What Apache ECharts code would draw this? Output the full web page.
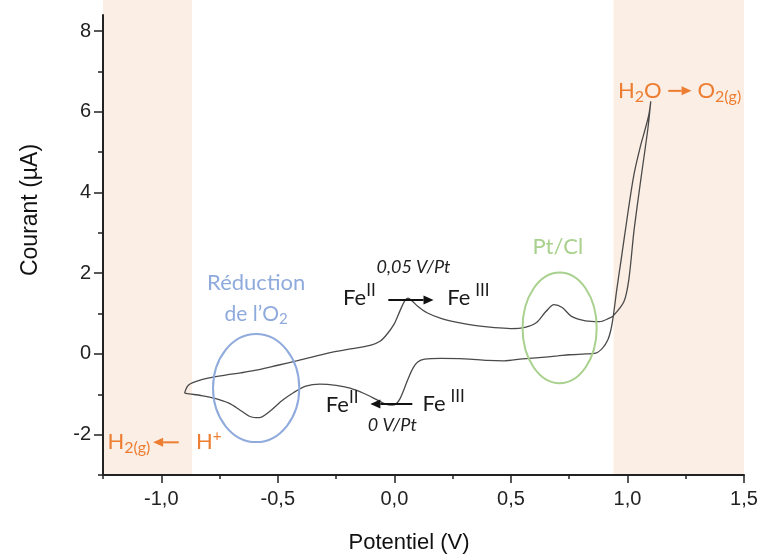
<!DOCTYPE html>
<html><head><meta charset="utf-8">
<script src="https://cdn.jsdelivr.net/npm/echarts@6/dist/echarts.min.js"></script>
<style>html,body{margin:0;padding:0;background:#fff}#c{width:761px;height:556px}</style>
</head><body><div id="c"></div>
<script>
// ---- data ----
const potential = [
  -0.90, -0.89, -0.875, -0.85, -0.80, -0.72, -0.66, -0.58, -0.50, -0.42, -0.35, -0.27, -0.18, -0.10, -0.06, -0.03,
  0.00, 0.025, 0.045, 0.058, 0.075, 0.10, 0.14, 0.20, 0.27, 0.35, 0.43, 0.50, 0.56, 0.61, 0.65, 0.685, 0.72, 0.76,
  0.82, 0.88, 0.92, 0.94, 0.985, 1.006, 1.028, 1.058, 1.088, 1.10,
  1.092, 1.075, 1.058, 1.028, 1.002, 0.972, 0.954, 0.94, 0.929, 0.916, 0.894, 0.864, 0.82,
  0.75, 0.70, 0.62, 0.55, 0.47, 0.40, 0.30, 0.20, 0.13, 0.10, 0.08, 0.06, 0.04, 0.025, 0.01, -0.01, -0.04, -0.08,
  -0.13, -0.19, -0.25, -0.32, -0.38, -0.43, -0.48, -0.53, -0.58, -0.62, -0.66, -0.71, -0.77, -0.83, -0.88, -0.90
];
const current = [
  -0.97, -0.82, -0.74, -0.68, -0.60, -0.52, -0.47, -0.39, -0.28, -0.17, -0.07, 0.04, 0.13, 0.22, 0.32, 0.50,
  0.75, 1.08, 1.32, 1.38, 1.32, 1.18, 1.02, 0.88, 0.78, 0.70, 0.65, 0.63, 0.66, 0.78, 1.05, 1.22, 1.15, 0.93,
  0.82, 0.80, 0.88, 0.95, 1.30, 1.85, 3.05, 4.35, 5.60, 6.26,
  5.94, 5.55, 5.20, 4.45, 3.50, 2.30, 1.59, 0.97, 0.60, 0.35, 0.15, 0.02, 0.00,
  -0.02, -0.05, -0.09, -0.12, -0.17, -0.16, -0.12, -0.11, -0.13, -0.20, -0.35, -0.60, -0.90, -1.10, -1.22, -1.27, -1.24, -1.12,
  -0.98, -0.85, -0.78, -0.75, -0.80, -0.95, -1.15, -1.40, -1.58, -1.55, -1.40, -1.22, -1.10, -1.03, -0.99, -0.97
];
const xMajorTicks = [-1, -0.5, 0, 0.5, 1, 1.5];
const xMinorTicks = [-1.25, -0.75, -0.25, 0.25, 0.75, 1.25];
const yMajorTicks = [-2, 0, 2, 4, 6, 8];
const yMinorTicks = [-3, -1, 1, 3, 5, 7];
const shadedRanges = [[-1.25, -0.868], [0.94, 1.5]];
const xTitle = 'Potentiel (V)';
const yTitle = 'Courant (µA)';

// ---- chart ----
const X_MIN = -1.25, X_MAX = 1.5, Y_MIN = -3, Y_MAX = 8.4;
const AX = '#222';
const chart = echarts.init(document.getElementById('c'), null, {renderer: 'canvas'});
const fmtX = v => Number(v).toFixed(1).replace('.', ',');
const axisBase = {type: 'value', splitLine: {show: false}};
chart.setOption({
  animation: false,
  backgroundColor: '#fff',
  grid: {left: 103, right: 17, top: 15, bottom: 81, containLabel: false},
  xAxis: [
    Object.assign({}, axisBase, {min: X_MIN, max: X_MAX, position: 'bottom',
      axisLine: {show: true, onZero: false, lineStyle: {color: AX, width: 2}},
      axisTick: {show: true, inside: false, length: 8, customValues: xMajorTicks, lineStyle: {color: AX, width: 1.5}},
      axisLabel: {show: true, customValues: xMajorTicks, formatter: fmtX, margin: 14,
        fontFamily: 'Liberation Sans', fontSize: 20, color: '#222'}}),
    Object.assign({}, axisBase, {min: X_MIN, max: X_MAX, position: 'bottom',
      axisLine: {show: false, onZero: false},
      axisTick: {show: true, inside: false, length: 4, customValues: xMinorTicks, lineStyle: {color: AX, width: 1.5}},
      axisLabel: {show: false}})
  ],
  yAxis: [
    Object.assign({}, axisBase, {min: Y_MIN, max: Y_MAX, position: 'left',
      axisLine: {show: true, onZero: false, lineStyle: {color: AX, width: 2}},
      axisTick: {show: true, inside: false, length: 9, customValues: yMajorTicks, lineStyle: {color: AX, width: 1.5}},
      axisLabel: {show: true, customValues: yMajorTicks, formatter: v => String(v), margin: 12,
        fontFamily: 'Liberation Sans', fontSize: 20, color: '#222'}}),
    Object.assign({}, axisBase, {min: Y_MIN, max: Y_MAX, position: 'left',
      axisLine: {show: false, onZero: false},
      axisTick: {show: true, inside: false, length: 5, customValues: yMinorTicks, lineStyle: {color: AX, width: 1.5}},
      axisLabel: {show: false}})
  ],
  series: [{
    type: 'line', xAxisIndex: 0, yAxisIndex: 0, z: 5,
    data: potential.map((v, k) => [v, current[k]]),
    showSymbol: false, smooth: 0.3,
    lineStyle: {color: '#4a4a4a', width: 1.3}
  }]
});

const P = (v, i) => chart.convertToPixel({xAxisIndex: 0, yAxisIndex: 0}, [v, i]);
const ORANGE = '#ed7d31', BLUE = '#8faadc', GREEN = '#a9d18e', FONT = 'Lato';
const g = [];
const yBottom = P(0, Y_MIN)[1];
shadedRanges.forEach(r => {
  const a = P(r[0], 0)[0], b = P(r[1], 0)[0];
  g.push({type: 'rect', z: -1, shape: {x: a, y: 0, width: b - a, height: yBottom}, style: {fill: '#fbeee5'}, silent: true});
});
function ellipse(cv, ci, rv, ri, color) {
  const c = P(cv, ci), e = P(cv + rv, ci + ri);
  g.push({type: 'ellipse', z: 10, shape: {cx: c[0], cy: c[1], rx: Math.abs(e[0] - c[0]), ry: Math.abs(c[1] - e[1])},
    style: {fill: 'none', stroke: color, lineWidth: 2}});
}
function text(v, i, str, opt) {
  const p = P(v, i);
  g.push({type: 'text', z: 10, x: p[0], y: p[1], style: Object.assign({text: str, align: 'center', verticalAlign: 'middle',
    fontFamily: FONT, fontSize: 19, fill: '#222'}, opt)});
}
function arrow(v1, v2, i, color) {
  const a = P(v1, i), b = P(v2, i);
  const dir = Math.sign(b[0] - a[0]), hl = 10, hw = 4.5;
  g.push({type: 'line', z: 10, shape: {x1: a[0], y1: a[1], x2: b[0] - dir * hl, y2: b[1]}, style: {stroke: color, lineWidth: 2}});
  g.push({type: 'polygon', z: 10, shape: {points: [[b[0], b[1]], [b[0] - dir * hl, b[1] - hw], [b[0] - dir * hl, b[1] + hw]]}, style: {fill: color}});
}
const richFor = c => ({
  a: {fontFamily: FONT, fontSize: 22, fill: c},
  b: {fontFamily: FONT, fontSize: 16, fill: c, padding: [11, 0, 0, 0]},
  s: {fontFamily: FONT, fontSize: 17, fill: c, padding: [0, 0, 14, 0]},
  p: {fontFamily: FONT, fontSize: 15, fill: c, padding: [0, 0, 12, 0]}
});
const feRich = richFor('#1a1a1a');
const orRich = richFor(ORANGE);

ellipse(-0.593, -0.845, 0.185, 1.34, BLUE);
ellipse(0.709, 0.646, 0.159, 1.37, GREEN);
text(-0.593, 1.76, 'Réduction', {fill: BLUE, fontSize: 22});
text(-0.593, 0.99, "de l’O{b|2}", {fill: BLUE, fontSize: 21, rich: {b: {fontFamily: FONT, fontSize: 15, fill: BLUE, padding: [10, 0, 0, 0]}}});
text(0.701, 2.66, 'Pt/Cl', {fill: GREEN, fontSize: 22});
text(0.082, 2.14, '0,05 V/Pt', {fontStyle: 'italic', fontSize: 18, fill: '#222'});
text(-0.009, -1.76, '0 V/Pt', {fontStyle: 'italic', fontSize: 18, fill: '#222'});
text(-0.150, 1.40, '{a|Fe}{s|II}', {rich: feRich});
text(0.318, 1.40, '{a|Fe} {s|III}', {rich: feRich});
text(0.211, -1.24, '{a|Fe} {s|III}', {rich: feRich});
text(-0.224, -1.26, '{a|Fe}{s|II}', {rich: feRich});
arrow(-0.026, 0.168, 1.34, '#111');
arrow(0.077, -0.103, -1.24, '#111');
// orange reactions
text(1.053, 6.52, '{a|H}{b|2}{a|O}', {rich: orRich});
arrow(1.175, 1.275, 6.52, ORANGE);
text(1.394, 6.52, '{a|O}{b|2(g)}', {rich: orRich});
text(-1.139, -2.19, '{a|H}{b|2(g)}', {rich: orRich});
arrow(-0.925, -1.035, -2.19, ORANGE);
text(-0.796, -2.19, '{a|H}{p|+}', {rich: orRich});
// axis titles
g.push({type: 'text', z: 10, x: 31, y: 210, rotation: Math.PI / 2, style: {text: yTitle, align: 'center', verticalAlign: 'middle',
  fontFamily: 'Liberation Sans', fontSize: 23, fill: '#111'}});
g.push({type: 'text', z: 10, x: 409, y: 543, style: {text: xTitle, align: 'center', verticalAlign: 'middle',
  fontFamily: 'Liberation Sans', fontSize: 22, fill: '#111'}});
chart.setOption({graphic: {elements: g}});
</script></body></html>
